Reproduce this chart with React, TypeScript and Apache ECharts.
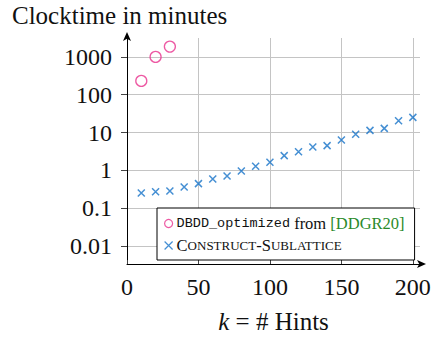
import React, { useEffect, useRef } from "react";
import * as echarts from "echarts";

const hintsDBDD = [10, 20, 30];
const timeDBDD = [232, 1000, 1870];

const hintsCS = [10, 20, 30, 40, 50, 60, 70, 80, 90, 100, 110, 120, 130, 140, 150, 160, 170, 180, 190, 200];
const timeCS = [0.252, 0.273, 0.285, 0.363, 0.445, 0.59, 0.71, 0.96, 1.28, 1.63, 2.45, 3.12, 4.16, 4.5, 6.37, 8.96, 11.4, 12.9, 20.6, 25.2];

const xTicks = [0, 50, 100, 150, 200];
const yTicks = [0.01, 0.1, 1, 10, 100, 1000];

const SERIF = "'Liberation Serif', 'Times New Roman', serif";
const MONO = "'Liberation Mono', 'DejaVu Sans Mono', monospace";
const MAGENTA = "#e8308c";
const BLUE = "#1673c8";

export default function App() {
  const ref = useRef<HTMLDivElement>(null);
  useEffect(() => {
    if (!ref.current) return;
    const chart = echarts.init(ref.current, undefined, { renderer: "svg" });
    const fmtY = (v: number) => {
      const r = Number(v.toPrecision(6));
      return yTicks.includes(r) ? String(r) : "";
    };
    chart.setOption({
      animation: false,
      textStyle: { fontFamily: SERIF },
      title: {
        text: "Clocktime in minutes",
        left: 7,
        top: -2,
        textStyle: { fontFamily: SERIF, fontSize: 25, fontWeight: "normal", color: "#111" },
      },
      grid: { left: 127, right: 16, top: 38, bottom: 75, containLabel: false },
      xAxis: {
        type: "value",
        min: 0,
        max: 205,
        interval: 50,
        name: "{it|k} = # Hints",
        nameLocation: "middle",
        nameGap: 45,
        nameTextStyle: {
          fontFamily: SERIF,
          fontSize: 25,
          color: "#111",
          rich: { it: { fontStyle: "italic", fontFamily: SERIF, fontSize: 25, color: "#111" } },
        },
        axisLine: {
          show: true,
          onZero: false,
          lineStyle: { color: "#000", width: 1 },
          symbol: ["none", "arrow"],
          symbolSize: [6, 9],
          symbolOffset: [0, 6],
        },
        axisTick: { show: true, inside: true, length: 4, lineStyle: { color: "#444" } },
        axisLabel: {
          fontFamily: SERIF,
          fontSize: 24,
          color: "#111",
          margin: 11,
          showMaxLabel: false,
          formatter: (v: number) => (xTicks.includes(v) ? String(v) : ""),
        },
        splitLine: { show: true, showMinLine: false, showMaxLine: false, lineStyle: { color: "#c4c4c4", width: 1 } },
      },
      yAxis: {
        type: "log",
        logBase: 10,
        min: 0.00334,
        max: 3160,
        axisLine: {
          show: true,
          onZero: false,
          lineStyle: { color: "#000", width: 1 },
          symbol: ["none", "arrow"],
          symbolSize: [6, 9],
          symbolOffset: [0, 6],
        },
        axisTick: { show: true, inside: false, length: 6, lineStyle: { color: "#444" } },
        axisLabel: {
          fontFamily: SERIF,
          fontSize: 24,
          color: "#111",
          margin: 15,
          showMinLabel: false,
          showMaxLabel: false,
          formatter: fmtY,
        },
        splitLine: { show: true, showMinLine: false, showMaxLine: false, lineStyle: { color: "#c4c4c4", width: 1 } },
      },
      legend: {
        orient: "vertical",
        left: 157,
        top: 208,
        padding: [7, 10, 6, 7],
        itemGap: 5,
        itemWidth: 8,
        itemHeight: 8,
        backgroundColor: "#fff",
        borderColor: "#000",
        borderWidth: 1,
        borderRadius: 0,
        textStyle: {
          fontFamily: SERIF,
          fontSize: 16.5,
          color: "#111",
          padding: [0, 0, 0, -1],
          rich: {
            mono: { fontFamily: MONO, fontSize: 13.5, color: "#111" },
            ser: { fontFamily: SERIF, fontSize: 16.5, color: "#111" },
            cite: { fontFamily: SERIF, fontSize: 16.5, color: "#2a8a2a" },
            big: { fontFamily: SERIF, fontSize: 16.5, color: "#111" },
            sm: { fontFamily: SERIF, fontSize: 13, color: "#111" },
          },
        },
        formatter: (name: string) => {
          if (name === "DBDD") return "{mono|DBDD_optimized}{ser| from }{cite|[DDGR20]}";
          return "{big|C}{sm|ONSTRUCT}{big|-S}{sm|UBLATTICE}";
        },
        data: [
          { name: "DBDD", icon: "circle", itemStyle: { color: "rgba(0,0,0,0)", borderColor: MAGENTA, borderWidth: 1.2 } },
          { name: "CS", icon: "path://M0,0L10,10M10,0L0,10", itemStyle: { color: "rgba(0,0,0,0)", borderColor: BLUE, borderWidth: 1.2 } },
        ],
      },
      series: [
        {
          name: "DBDD",
          type: "scatter",
          data: hintsDBDD.map((k, i) => [k, timeDBDD[i]]),
          symbol: "circle",
          symbolSize: 11,
          itemStyle: { color: "rgba(0,0,0,0)", borderColor: MAGENTA, borderWidth: 1.3 },
          z: 3,
        },
        {
          name: "CS",
          type: "scatter",
          data: hintsCS.map((k, i) => [k, timeCS[i]]),
          symbol: "path://M0,0L10,10M10,0L0,10",
          symbolSize: 7,
          itemStyle: { color: "rgba(0,0,0,0)", borderColor: BLUE, borderWidth: 1.5 },
          z: 3,
        },
      ],
    });
    return () => chart.dispose();
  }, []);
  return <div ref={ref} style={{ position: "fixed", left: 0, top: 0, width: 436, height: 339, background: "#fff" }} />;
}
